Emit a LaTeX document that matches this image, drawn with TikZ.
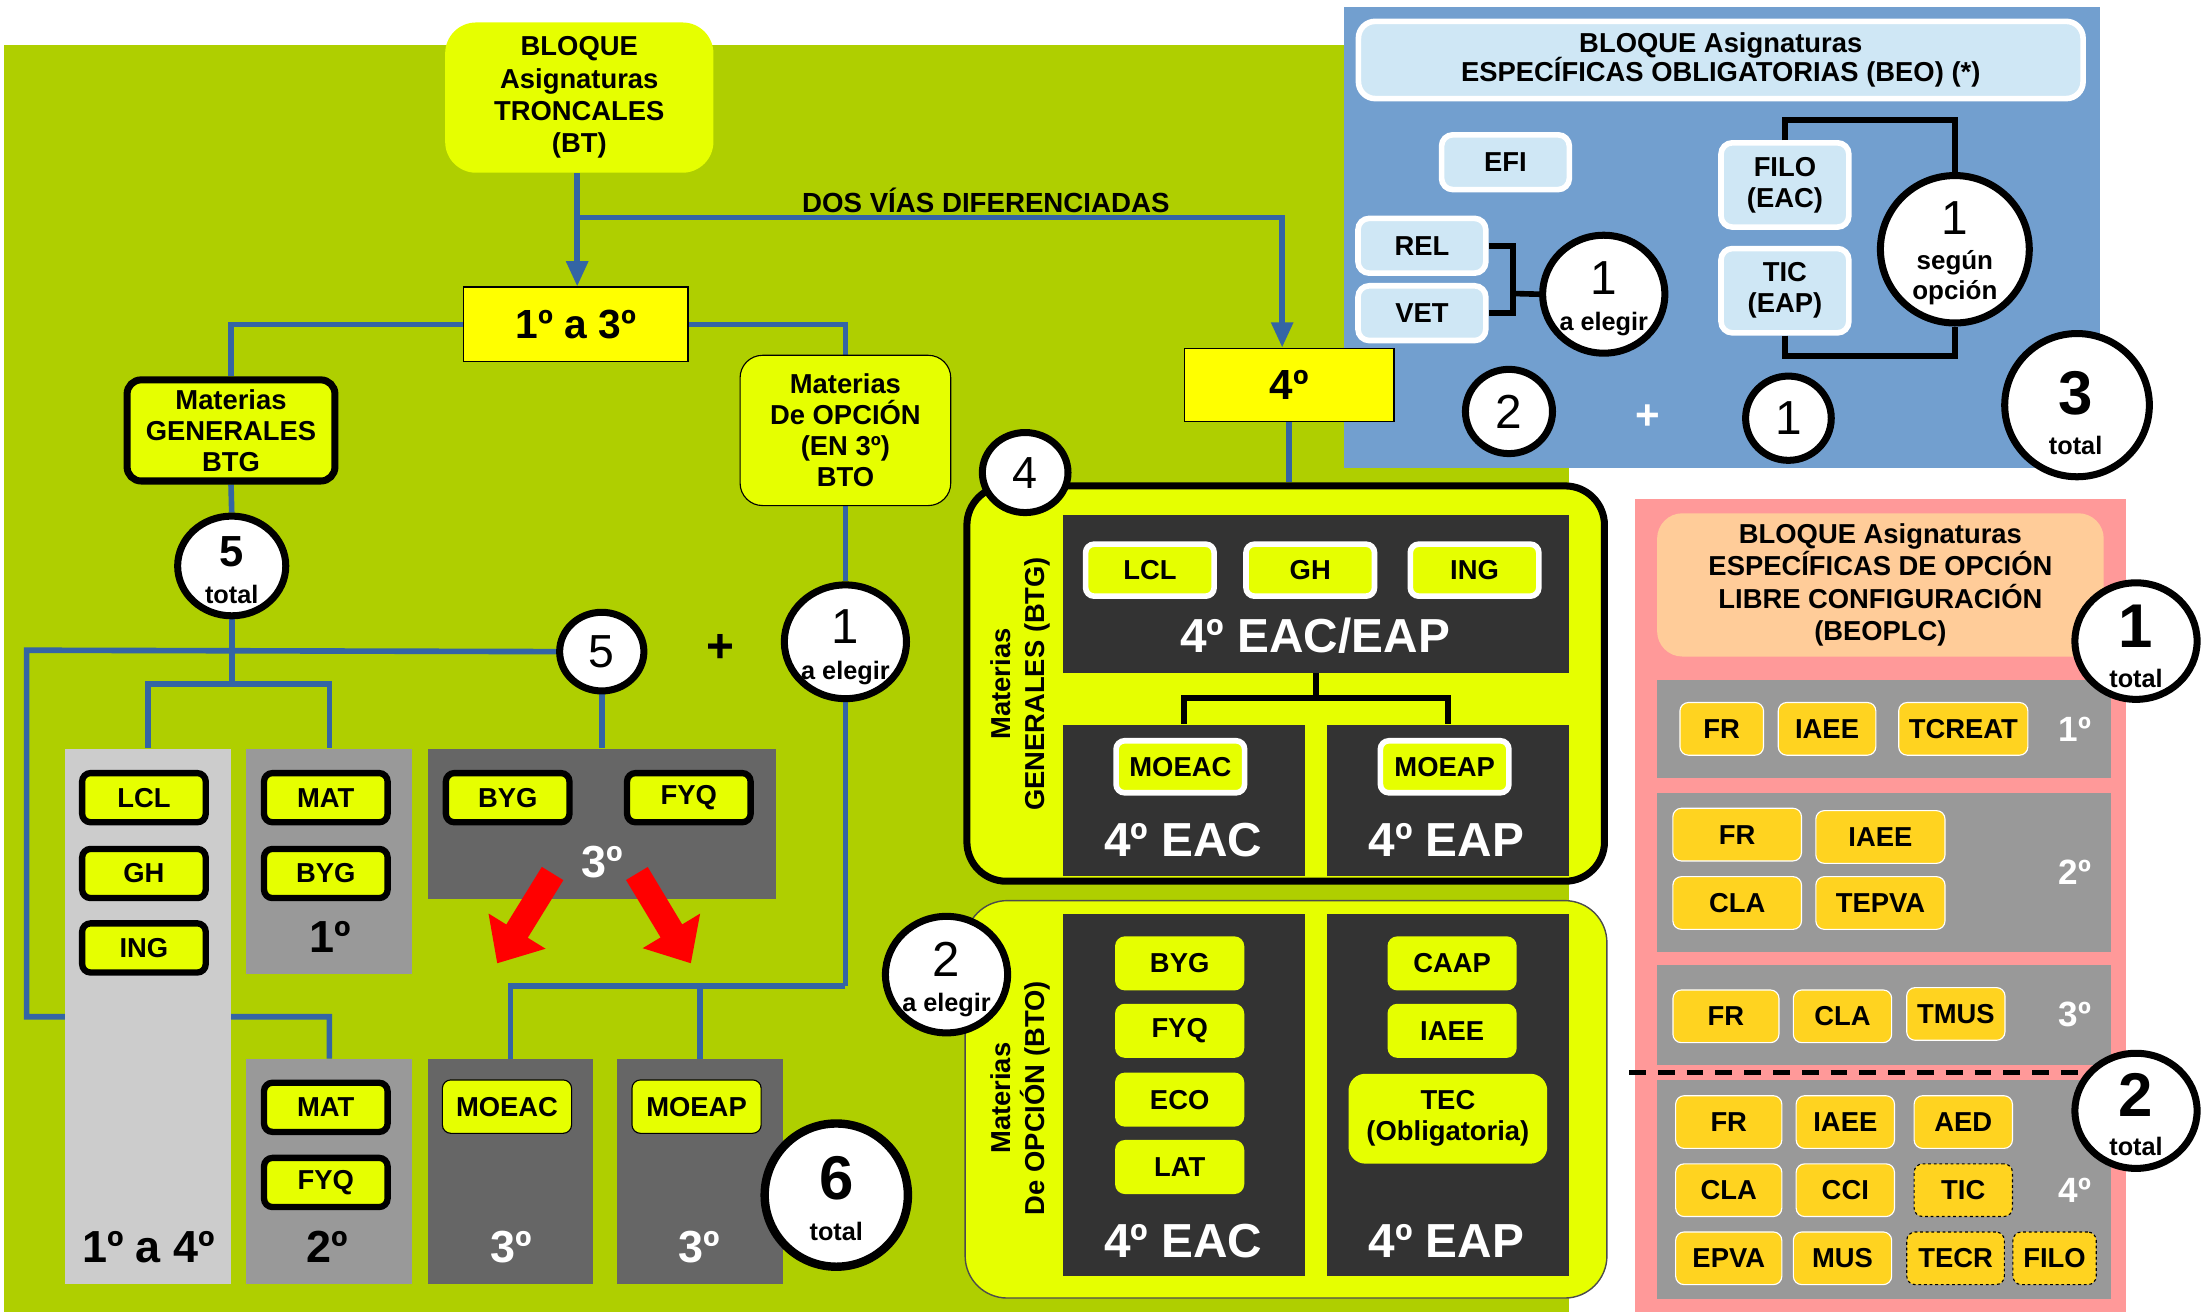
\documentclass[tikz,border=0pt]{standalone}
\usepackage{fontspec}
\setmainfont{Liberation Sans}
\usetikzlibrary{arrows.meta,shapes.geometric}
\definecolor{cgreen}{HTML}{AFCF00}
\definecolor{ygreen}{HTML}{E6FF00}
\definecolor{cyel}{HTML}{FFFF00}
\definecolor{cblue}{HTML}{3465A4}
\definecolor{cglt}{HTML}{CCCCCC}
\definecolor{cgmid}{HTML}{999999}
\definecolor{cgdk}{HTML}{666666}
\definecolor{cgdd}{HTML}{333333}
\definecolor{cbbg}{HTML}{729FCF}
\definecolor{cltb}{HTML}{CFE7F5}
\definecolor{cpink}{HTML}{FF9999}
\definecolor{cpeach}{HTML}{FFCC99}
\definecolor{cgold}{HTML}{FFD320}
\definecolor{cred}{HTML}{FF0000}
\newcommand\myfs[2]{\fontsize{#1}{#2}\selectfont\bfseries}
\newcommand\myrg[1]{\fontsize{#1}{#1}\selectfont}
\pgfdeclarelayer{bgl}
\pgfdeclarelayer{lns}
\pgfsetlayers{bgl,lns,main}
\begin{document}
\begin{tikzpicture}[x=1pt,y=-1pt,
  conn/.style={draw=cblue,line width=4},
  arr/.style={-{Triangle[length=18pt,width=15pt]}},
  blk/.style={draw=black,line width=4},
  gbox/.style={rectangle,rounded corners=6,fill=ygreen,draw=black,line width=4.5,minimum width=88,minimum height=35,inner sep=0,font=\myfs{19.5}{22}},
  tbox/.style={rectangle,rounded corners=6,fill=ygreen,draw=black,line width=0.8,minimum width=92,minimum height=38,inner sep=0,font=\myfs{19.5}{22}},
  wbox/.style={rectangle,rounded corners=6,fill=ygreen,draw=white,line width=4,minimum width=91.5,minimum height=37,inner sep=0,font=\myfs{19.5}{22}},
  obox/.style={rectangle,rounded corners=7,fill=ygreen,draw=none,minimum width=92,minimum height=38.5,inner sep=0,font=\myfs{19.5}{22},align=center},
  lbox/.style={rectangle,rounded corners=8,fill=cltb,draw=white,line width=4,minimum width=91,minimum height=39,inner sep=0,font=\myfs{19.5}{22},align=center},
  pbox/.style={rectangle,rounded corners=6,fill=cgold,draw=white,line width=0.8,minimum height=37.5,inner sep=0,font=\myfs{19.5}{22}},
  pdash/.style={pbox,draw=black,dash pattern=on 2pt off 2pt},
  circ/.style={ellipse,draw=black,line width=5,fill=white,inner sep=0},
  gcol/.style={rectangle,inner sep=0,draw=none},
  big/.style={font=\myfs{32}{32}},
  wbig/.style={font=\myfs{34}{34},text=white},
  tot/.style={font=\myfs{18}{18}}]
\useasboundingbox (0,0) rectangle (1568,934);
\begin{pgfonlayer}{bgl}
\fill[cgreen] (3,32) rectangle (1117,934);
\fill[cbbg] (957,5) rectangle (1495,333);
\fill[cpink] (1164,355) rectangle (1514,934);
\end{pgfonlayer}

% ---------- green section: top ----------
\node[fill=ygreen,rounded corners=22,minimum width=191,minimum height=107,align=center,font=\myfs{19.5}{23}] (bt) at (412.5,69.5) {BLOQUE\\Asignaturas\\TRONCALES\\(BT)};
\node[fill=cyel,draw=black,line width=1,minimum width=160,minimum height=53,font=\myfs{29}{30}] (t13) at (410,231) {1º a 3º};
\node[fill=ygreen,draw=black,line width=5,rounded corners=10,minimum width=148,minimum height=72,align=center,font=\myfs{19.5}{22}] (mg) at (164.5,306.5) {Materias\\GENERALES\\BTG};
\node[fill=ygreen,draw=black,line width=0.8,rounded corners=16,minimum width=150,minimum height=107,align=center,font=\myfs{19.5}{22}] (mo) at (602,306.5) {Materias\\De OPCIÓN\\(EN 3º)\\BTO};
\node[font=\myfs{19.7}{22}] (dvd) at (702,143) {DOS VÍAS DIFERENCIADAS};

% gray columns
\node[gcol,fill=cglt,minimum width=118.5,minimum height=381.5] (col14) at (105.25,723.75) {};
\node[gcol,fill=cgmid,minimum width=118,minimum height=160.5] (col1) at (234.5,613.25) {};
\node[gcol,fill=cgmid,minimum width=118,minimum height=160.5] (col2) at (234.5,834.25) {};
\node[gcol,fill=cgdk,minimum width=248,minimum height=107] (col3) at (428.5,586.5) {};
\node[gcol,fill=cgdk,minimum width=118,minimum height=160.5] (colc) at (363.5,834.25) {};
\node[gcol,fill=cgdk,minimum width=118,minimum height=160.5] (colp) at (498.5,834.25) {};

\node[gbox] (lcl1) at (102.5,568) {LCL};
\node[gbox] (gh1) at (102.5,622) {GH};
\node[gbox] (ing1) at (102.5,675) {ING};
\node[gbox] (mat1) at (232,568) {MAT};
\node[gbox] (byg1) at (232,622) {BYG};
\node[gbox] (mat2) at (232,788.5) {MAT};
\node[gbox] (fyq2) at (232,842) {FYQ};
\node[gbox] (byg3) at (361.5,568) {BYG};
\node[gbox] (fyq3) at (490.5,568) {FYQ};
\node[tbox] (moeac3) at (361,788) {MOEAC};
\node[tbox] (moeap3) at (496,788) {MOEAP};

\node[big] (l14) at (105.7,888) {1º a 4º};
\node[big] (l1) at (235,667) {1º};
\node[big] (l2) at (233,888) {2º};
\node[big,text=white] (l3a) at (428.5,613.5) {3º};
\node[big,text=white] (l3b) at (364,888) {3º};
\node[big,text=white] (l3c) at (498,888) {3º};

% red arrows
\coordinate (ra1) at (393.5,622);
\coordinate (ra1e) at (354,686);
\coordinate (ra2) at (453.5,622);
\coordinate (ra2e) at (492,686);
\draw[draw=cred,line width=18,-{Triangle[length=27pt,width=46pt]}] (ra1) -- (ra1e);
\draw[draw=cred,line width=18,-{Triangle[length=27pt,width=46pt]}] (ra2) -- (ra2e);

% circles green
\node[circ,minimum width=77,minimum height=71] (c5t) at (165,403) {};
\node[font=\myfs{31}{31}] (c5tn) at (165,393) {5};
\node[tot] (c5tt) at (165,423) {total};
\node[circ,minimum width=60,minimum height=56] (c5) at (428.5,464) {};
\node[font=\myrg{33}] (c5n) at (428.5,464) {5};
\node[font=\myfs{34}{34}] (plus1) at (513,462) {+};
\node[circ,minimum width=87,minimum height=81] (c1a) at (602,457) {};
\node[font=\myrg{35}] (c1an) at (602,446) {1};
\node[tot] (c1at) at (602,479) {a elegir};
\node[circ,line width=6,minimum width=102,minimum height=102] (c6t) at (595.5,851) {};
\node[font=\myfs{44}{44}] (c6tn) at (595.5,839) {6};
\node[tot] (c6tt) at (595.5,877) {total};

% ---------- 4º section ----------
\node[fill=cyel,draw=black,line width=1,minimum width=149,minimum height=52,font=\myfs{30}{30}] (t4) at (918,274) {4º};
\node[fill=ygreen,draw=black,line width=5,rounded corners=28,minimum width=454,minimum height=281.5] (btg) at (915.5,486.75) {};
\node[fill=ygreen,draw=black!70,line width=1,rounded corners=30,minimum width=457,minimum height=283] (bto) at (915.75,782.8) {};
\node[rotate=90,align=center,font=\myfs{19.5}{24}] (rtg) at (726.8,487) {Materias\\GENERALES (BTG)};
\node[rotate=90,align=center,font=\myfs{19.5}{24}] (rto) at (726.8,782) {Materias\\De OPCIÓN (BTO)};

\node[gcol,fill=cgdd,minimum width=360,minimum height=112.5] (dtop) at (937,422.75) {};
\node[gcol,fill=cgdd,minimum width=172,minimum height=107.5] (deac) at (843,569.75) {};
\node[gcol,fill=cgdd,minimum width=172,minimum height=107.5] (deap) at (1031,569.75) {};
\node[gcol,fill=cgdd,minimum width=172,minimum height=257.7] (oeac) at (843,779.85) {};
\node[gcol,fill=cgdd,minimum width=172,minimum height=257.7] (oeap) at (1031,779.85) {};
\coordinate (jb) at (937,497);
\draw[blk] (dtop.south) -- (jb);
\draw[blk] (jb) -| (deac.north);
\draw[blk] (jb) -| (deap.north);

\node[wbox] (lcl4) at (818.8,406) {LCL};
\node[wbox] (gh4) at (933,406) {GH};
\node[wbox] (ing4) at (1050,406) {ING};
\node[wbox] (moeac4) at (840.5,546) {MOEAC};
\node[wbox] (moeap4) at (1028.7,546) {MOEAP};
\node[wbig] (l4ee) at (936.5,453) {4º EAC/EAP};
\node[wbig] (l4ac) at (842.5,598) {4º EAC};
\node[wbig] (l4ap) at (1030,598) {4º EAP};
\node[obox] (byg4) at (840,686) {BYG};
\node[obox] (fyq4) at (840,734) {FYQ};
\node[obox] (eco4) at (840,783) {ECO};
\node[obox] (lat4) at (840,831) {LAT};
\node[obox] (caap4) at (1034,686) {CAAP};
\node[obox] (iaee4) at (1034,734) {IAEE};
\node[obox,minimum width=141.5,minimum height=64,rounded corners=12] (tec4) at (1031,796.6) {TEC\\(Obligatoria)};
\node[wbig] (l4bc) at (842.5,883.7) {4º EAC};
\node[wbig] (l4bp) at (1030,883.7) {4º EAP};

\node[circ,minimum width=61,minimum height=57] (c4) at (730,336.5) {};
\node[font=\myrg{32}] (c4n) at (730,336.5) {4};
\node[circ,minimum width=87,minimum height=83] (c2a) at (674,694) {};
\node[font=\myrg{35}] (c2an) at (674,683) {2};
\node[tot] (c2at) at (674,716) {a elegir};

% ---------- blue section ----------
\node[lbox,minimum width=516,minimum height=55,rounded corners=12] (beo) at (1225.3,42.7) {BLOQUE Asignaturas\\[-1pt]ESPECÍFICAS OBLIGATORIAS (BEO) (*)};
\node[lbox] (efi) at (1072,115.5) {EFI};
\node[lbox] (rel) at (1012.5,175) {REL};
\node[lbox] (vet) at (1012.5,223) {VET};
\node[lbox,minimum height=60] (filo) at (1271,131.7) {FILO\\(EAC)};
\node[lbox,minimum height=60] (tic) at (1271,207) {TIC\\(EAP)};
\node[circ,minimum width=87,minimum height=84] (c1e) at (1142,209.5) {};
\node[font=\myrg{34}] (c1en) at (1142,198) {1};
\node[tot] (c1et) at (1142,231) {a elegir};
\node[circ,minimum width=106,minimum height=105] (cso) at (1392,177.5) {};
\node[font=\myrg{34}] (cson) at (1392,155.5) {1};
\node[align=center,font=\myfs{18.5}{21.5}] (csot) at (1392,198) {según\\opción};
\coordinate (brk) at (1077.5,209);
\draw[blk] (rel.east) -| (brk) |- (vet.east);
\draw[blk] (brk) -- (c1e.west);
\coordinate (bt1) at (1392,85.5);
\coordinate (bt2) at (1392,253.5);
\draw[blk] (filo.north) |- (bt1) -- (cso.north);
\draw[blk] (tic.south) |- (bt2) -- (cso.south);
\node[circ,minimum width=62,minimum height=60] (c2b) at (1074.5,293) {};
\node[font=\myrg{34}] (c2bn) at (1074.5,293) {2};
\node[font=\myfs{30}{30},text=white] (plus2) at (1173,296.7) {+};
\node[circ,minimum width=61,minimum height=60] (c1b) at (1273.5,297.8) {};
\node[font=\myrg{34}] (c1bn) at (1273.5,297.8) {1};
\node[circ,minimum width=103,minimum height=102] (c3t) at (1479,288.5) {};
\node[font=\myfs{44}{44}] (c3tn) at (1478,280) {3};
\node[tot] (c3tt) at (1478,317) {total};

% ---------- pink section ----------
\node[fill=cpeach,rounded corners=18,minimum width=318,minimum height=102,align=center,font=\myfs{19.5}{22.9}] (beop) at (1339,416.5) {BLOQUE Asignaturas\\ESPECÍFICAS DE OPCIÓN\\LIBRE CONFIGURACIÓN\\(BEOPLC)};
\node[gcol,fill=cgmid,minimum width=323,minimum height=70] (pr1) at (1341.5,519) {};
\node[gcol,fill=cgmid,minimum width=323,minimum height=112.6] (pr2) at (1341.5,621.3) {};
\node[gcol,fill=cgmid,minimum width=323,minimum height=71] (pr3) at (1341.5,722.5) {};
\node[gcol,fill=cgmid,minimum width=323,minimum height=156] (pr4) at (1341.5,847) {};
\draw[black,line width=4,dash pattern=on 12pt off 8.5pt] (1160,763.7) -- (1490,763.7);

\node[pbox,minimum width=59.5] (p1fr) at (1226,519) {FR};
\node[pbox,minimum width=69.5] (p1ia) at (1301,519) {IAEE};
\node[pbox,minimum width=92] (p1tc) at (1398,519) {TCREAT};
\node[pbox,minimum width=91.6] (p2fr) at (1237,594.3) {FR};
\node[pbox,minimum width=92] (p2ia) at (1339,596) {IAEE};
\node[pbox,minimum width=91.6] (p2cl) at (1237,643) {CLA};
\node[pbox,minimum width=92] (p2te) at (1339,643) {TEPVA};
\node[pbox,minimum width=75.5] (p3fr) at (1229,723.7) {FR};
\node[pbox,minimum width=70] (p3cl) at (1312,723.7) {CLA};
\node[pbox,minimum width=70] (p3tm) at (1392.7,722) {TMUS};
\node[pbox,minimum width=75.6] (p4fr) at (1231,799) {FR};
\node[pbox,minimum width=70] (p4ia) at (1314,799) {IAEE};
\node[pbox,minimum width=70] (p4ae) at (1398,799) {AED};
\node[pbox,minimum width=75.6] (p4cl) at (1231,847.5) {CLA};
\node[pbox,minimum width=70] (p4cc) at (1314,847.5) {CCI};
\node[pdash,minimum width=70] (p4ti) at (1398,847.5) {TIC};
\node[pbox,minimum width=75.6] (p4ep) at (1231,896) {EPVA};
\node[pbox,minimum width=70] (p4mu) at (1312,896) {MUS};
\node[pdash,minimum width=69.5] (p4tr) at (1392.5,896) {TECR};
\node[pdash,minimum width=59.3] (p4fi) at (1463,896) {FILO};
\node[font=\myfs{25}{25},text=white] (pl1) at (1477.4,519) {1º};
\node[font=\myfs{25}{25},text=white] (pl2) at (1477.4,621) {2º};
\node[font=\myfs{25}{25},text=white] (pl3) at (1477.4,722) {3º};
\node[font=\myfs{25}{25},text=white] (pl4) at (1477.4,847.5) {4º};

\node[circ,minimum width=87,minimum height=83] (cp1) at (1521,456.5) {};
\node[font=\myfs{44}{44}] (cp1n) at (1521,445.6) {1};
\node[tot] (cp1t) at (1521,483.3) {total};
\node[circ,minimum width=87,minimum height=82] (cp2) at (1521,791) {};
\node[font=\myfs{44}{44}] (cp2n) at (1521,779.5) {2};
\node[tot] (cp2t) at (1521,816.6) {total};

% ---------- blue connectors (behind) ----------
\begin{pgfonlayer}{lns}
\coordinate (sp) at (411,155);
\draw[conn] (sp |- bt.south) -- (sp);
\draw[conn,arr] (sp) -- (sp |- t13.north);
\draw[conn,arr] (sp) -| ([xshift=-5pt]t4.north);
\draw[conn] (t13.west) -| (mg.north);
\draw[conn] (t13.east) -| (mo.north);
\draw[conn] (mg.south) -- (c5t.north);
\coordinate (ja) at (165,487);
\draw[conn] (c5t.south) -- (ja);
\draw[conn] (ja) -| (col14.north);
\draw[conn] (ja) -| (col1.north);
\coordinate (la) at (19,463);
\coordinate (lb) at (19,724);
\draw[conn] (c5.west) -- (la) -- (lb) -| (col2.north);
\draw[conn] (c5.south) -- (col3.north);
\draw[conn] (mo.south) -- (c1a.north);
\coordinate (jc) at (602,702);
\draw[conn] (c1a.south) -- (jc);
\draw[conn] (jc) -| (colc.north);
\draw[conn] (jc -| colp.north) -- (colp.north);
\draw[conn] (t4.south) -- (t4.south |- btg.north);
\end{pgfonlayer}
\end{tikzpicture}
\end{document}
